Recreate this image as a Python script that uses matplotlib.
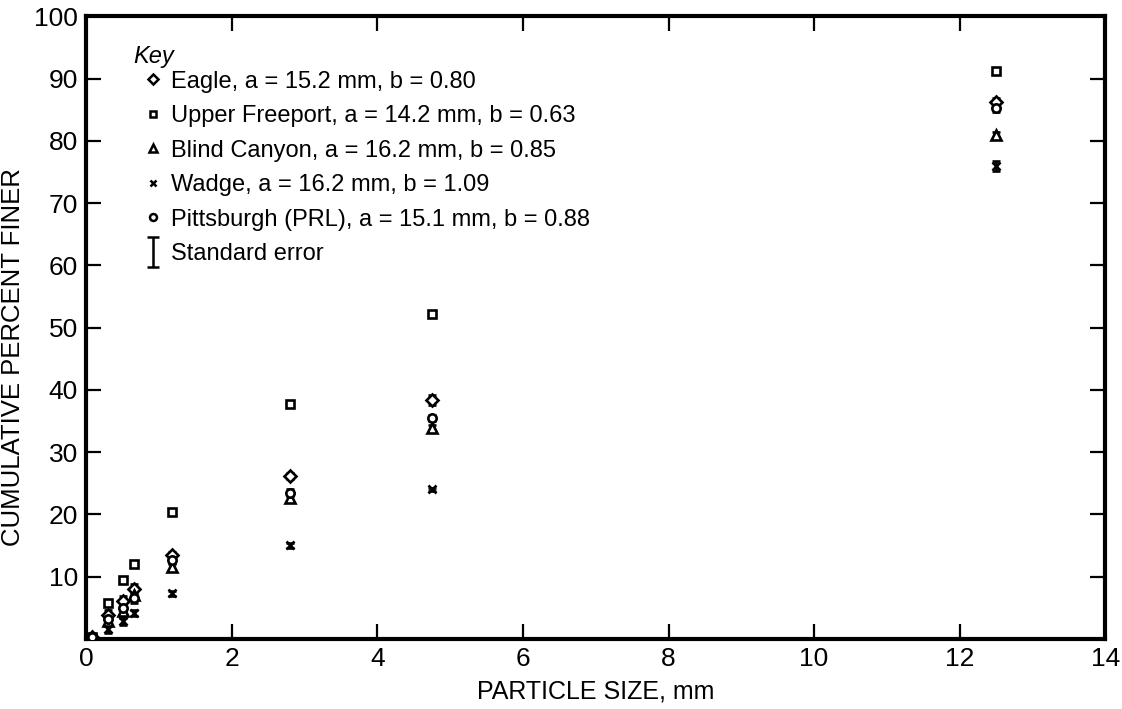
import matplotlib.pyplot as plt
from matplotlib.lines import Line2D
from matplotlib.legend_handler import HandlerErrorbar

plt.rcParams['font.family'] = ['Liberation Sans', 'DejaVu Sans']

# particle sizes (mm)
size = [0.075, 0.3, 0.5, 0.65, 1.18, 2.8, 4.75, 12.5]

eagle = [0.3, 3.8, 6.0, 8.0, 13.4, 26.2, 38.3, 86.3]
freeport = [0.3, 5.7, 9.5, 12.0, 20.3, 37.8, 52.2, 91.2]
blind = [0.3, 2.8, 4.5, 7.0, 11.6, 22.7, 33.8, 81.0]
wadge = [0.3, 1.6, 2.8, 4.2, 7.3, 15.0, 24.0, 76.0]
pitt = [0.3, 3.2, 5.0, 6.6, 12.6, 23.5, 35.5, 85.2]

# standard errors (rough)
eagle_err = [0.3, 0.8, 0.8, 0.8, 0.6, 0.5, 0.8, 0.6]
freeport_err = [0.3, 0.4, 0.4, 0.4, 0.3, 0.3, 0.3, 0.3]
blind_err = [0.3, 0.8, 0.8, 0.6, 0.5, 0.6, 0.5, 0.4]
wadge_err = [0.3, 0.6, 0.6, 0.5, 0.4, 0.4, 0.3, 0.8]
pitt_err = [0.3, 0.8, 0.8, 0.8, 0.6, 0.6, 0.5, 0.5]

labels = ['Eagle, a = 15.2 mm, b = 0.80',
          'Upper Freeport, a = 14.2 mm, b = 0.63',
          'Blind Canyon, a = 16.2 mm, b = 0.85',
          'Wadge, a = 16.2 mm, b = 1.09',
          'Pittsburgh (PRL), a = 15.1 mm, b = 0.88']

fig = plt.figure(figsize=(11.22, 7.09), dpi=100)
ax = fig.add_axes([0.077, 0.099, 0.908, 0.878])

series = [(eagle, eagle_err, 'D', 6), (freeport, freeport_err, 's', 6),
          (blind, blind_err, '^', 7), (wadge, wadge_err, 'x', 6),
          (pitt, pitt_err, 'o', 6)]
handles = []
for (vals, err, m, ms), lab in zip(series, labels):
    ax.errorbar(size, vals, yerr=err, fmt=m, ms=ms, mfc='white', mec='black',
                mew=1.9, ecolor='black', elinewidth=1.9, capsize=3, capthick=1.9,
                zorder=3)
    handles.append(Line2D([], [], ls='none', marker=m, ms=ms - 1, mfc='white',
                          mec='black', mew=1.8))

# dummy point off the axes just for the legend entry
se = ax.errorbar([-5], [50], yerr=[5], fmt='none', ecolor='black',
                 elinewidth=1.8, capsize=4, capthick=1.8)
handles.append(se)
labels.append('Standard error')

leg = ax.legend(handles, labels, loc='upper left', bbox_to_anchor=(0.036, 0.947),
                frameon=False, fontsize=17, handlelength=0.7, handletextpad=0.45,
                labelspacing=0.53,
                handler_map={type(se): HandlerErrorbar(yerr_size=0.65)})
ax.text(0.046, 0.936, 'Key', transform=ax.transAxes, fontsize=17,
        style='italic', ha='left', va='center')

ax.set_xlim(0, 14)
ax.set_ylim(0, 100)
ax.set_xticks(range(0, 15, 2))
ax.set_yticks(range(0, 101, 10))
ax.set_yticklabels([''] + [str(v) for v in range(10, 101, 10)])
ax.tick_params(direction='in', length=11, width=1.6, labelsize=19,
               top=True, right=True, pad=6)
for s in ax.spines.values():
    s.set_linewidth(3)

ax.set_xlabel('PARTICLE SIZE, mm', fontsize=18, labelpad=6)
ax.set_ylabel('CUMULATIVE PERCENT FINER', fontsize=18.5)
ax.yaxis.set_label_coords(-0.06, 0.453)

fig.savefig('out.png', dpi=100)
